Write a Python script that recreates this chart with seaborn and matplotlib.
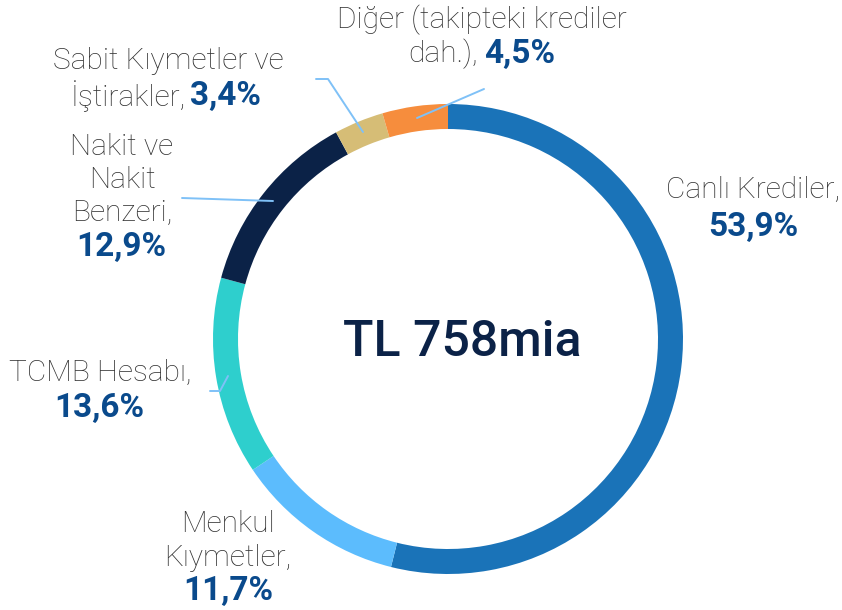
import matplotlib
matplotlib.use("Agg")
import matplotlib.pyplot as plt
import seaborn as sns

# Asset breakdown (share of total, %)
categories = ["Canlı Krediler", "Menkul Kıymetler", "TCMB Hesabı",
              "Nakit ve Nakit Benzeri", "Sabit Kıymetler ve İştirakler",
              "Diğer (takipteki krediler dah.)"]
shares = [53.9, 11.7, 13.6, 12.9, 3.4, 4.5]
pct_labels = ["53,9%", "11,7%", "13,6%", "12,9%", "3,4%", "4,5%"]
colors = ["#1a73b8", "#5cbcfd", "#2ecfcd", "#0b2247", "#d6bd76", "#f68d3d"]
total_label = "TL 758mia"

sns.set_theme(style="white")
plt.rcParams["font.family"] = ["Roboto", "DejaVu Sans"]

W, H = 842, 610
fig = plt.figure(figsize=(W / 100, H / 100), dpi=100)
ax = fig.add_axes([0, 0, 1, 1])

def Y(y):
    # pixel row -> data y
    return H - y

cx, cy, R = 448, 339, 235
ax.pie(shares, colors=colors, startangle=90, counterclock=False,
       center=(cx, Y(cy)), radius=R, frame=True,
       wedgeprops=dict(width=25, linewidth=0))
ax.set_xlim(0, W)
ax.set_ylim(0, H)
ax.set_aspect("equal")
ax.axis("off")

grey = "#333333"
blue = "#0a4a8c"
fs = 21.5
fsb = 24

def lab(x, y, s, ha="center"):
    ax.text(x, Y(y), s, ha=ha, va="center", fontsize=fs, color=grey,
            fontweight="light")

def pct(x, y, s, ha="center"):
    ax.text(x, Y(y), s, ha=ha, va="center", fontsize=fsb, color=blue,
            fontweight="bold")

# Canlı Krediler
lab(753, 190, "Canlı Krediler,")
pct(753, 227, pct_labels[0])
# Menkul Kıymetler
lab(228, 524, "Menkul")
lab(228, 558, "Kıymetler,")
pct(228, 591, pct_labels[1])
# TCMB
lab(100, 373, "TCMB Hesabı,")
pct(99, 408, pct_labels[2])
# Nakit
lab(122, 147, "Nakit ve")
lab(122, 180, "Nakit")
lab(122, 213, "Benzeri,")
pct(121, 247, pct_labels[3])
# Sabit
lab(168, 61, "Sabit Kıymetler ve")
lab(186, 96, "İştirakler,", ha="right")
pct(190, 96, pct_labels[4], ha="left")
# Diğer
lab(482, 20, "Diğer (takipteki krediler")
lab(478, 54, "dah.),", ha="right")
pct(484, 54, pct_labels[5], ha="left")

# leader lines
lc = "#7fc1f7"
leaders = [
    [(417, 118), (484, 89)],
    [(316, 79), (328, 79), (363, 132)],
    [(182, 198), (273, 201)],
    [(210, 391), (220, 391), (228, 376)],
]
for pts in leaders:
    ax.plot([p[0] for p in pts], [Y(p[1]) for p in pts], color=lc, lw=1.4)

ax.text(462, Y(342), total_label, ha="center", va="center", fontsize=36,
        color="#0b2247", fontweight="medium")

fig.savefig("out.png", dpi=100)
